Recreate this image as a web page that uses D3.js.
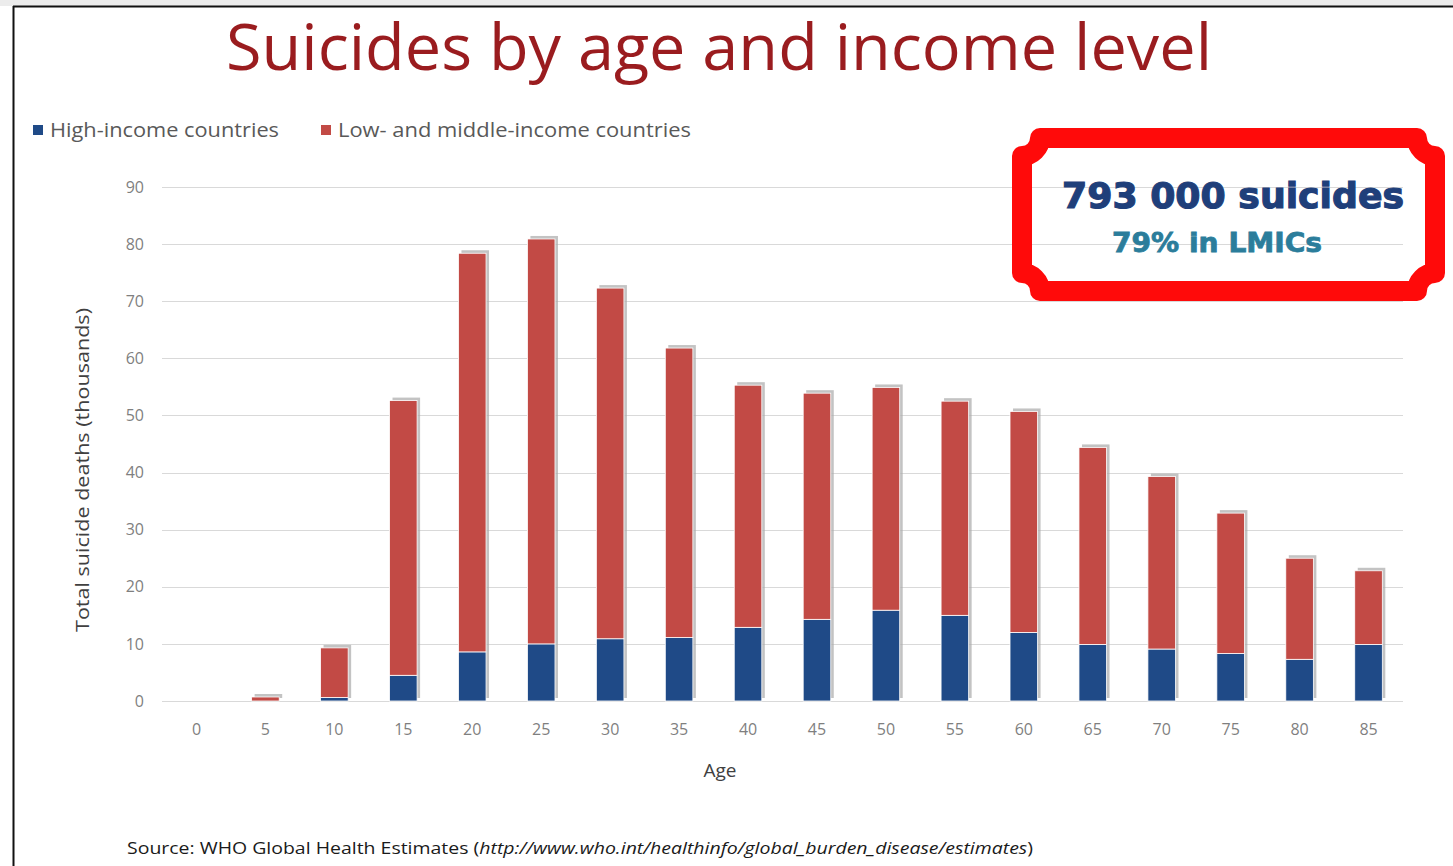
<!DOCTYPE html>
<html>
<head>
<meta charset="utf-8">
<script src="https://cdn.jsdelivr.net/npm/d3@7"></script>
<style>
  body { margin: 0; background: #fff; }
  svg { display: block; font-family: "Open Sans", "Liberation Sans", sans-serif; }
</style>
</head>
<body>
<svg width="1453" height="866"></svg>
<script>
// data (thousands of deaths)
var ages = ["0","5","10","15","20","25","30","35","40","45","50","55","60","65","70","75","80","85"];
var highIncome = [0, 0, 0.6, 4.5, 8.6, 10.0, 10.9, 11.1, 12.9, 14.3, 15.9, 15.0, 12.0, 9.9, 9.1, 8.3, 7.3, 9.9];
var lowMiddle = [0, 0.7, 8.7, 48.1, 69.8, 70.9, 61.4, 50.7, 42.4, 39.6, 39.0, 37.5, 38.7, 34.5, 30.2, 24.6, 17.7, 12.9];
var yTicks = [0, 10, 20, 30, 40, 50, 60, 70, 80, 90];
var seriesNames = ["High-income countries", "Low- and middle-income countries"];
var colors = ["#1f4a87", "#c24a45"];

function main(){
    var svg = d3.select("svg");

    // page frame
    svg.append("rect").attr("x", 0).attr("y", 0).attr("width", 1453).attr("height", 6).attr("fill", "#ececec");
    svg.append("line").attr("x1", 13).attr("x2", 1453).attr("y1", 6.5).attr("y2", 6.5).attr("stroke", "#111").attr("stroke-width", 2);
    svg.append("line").attr("x1", 13.5).attr("x2", 13.5).attr("y1", 6).attr("y2", 866).attr("stroke", "#111").attr("stroke-width", 2);

    // title
    svg.append("text").attr("x", 719).attr("y", 70).attr("text-anchor", "middle")
        .attr("font-size", 64).attr("fill", "#9a1c1f")
        .attr("textLength", 986).attr("lengthAdjust", "spacingAndGlyphs")
        .text("Suicides by age and income level");

    var left = 162, right = 1403, top = 187, bottom = 701;

    var xScale = d3.scaleBand().domain(ages).range([left, right]).paddingInner(0.6).paddingOuter(0.3),
        yScale = d3.scaleLinear().domain([0, 90]).range([bottom, top]);

    // gridlines
    svg.append("g").selectAll("line").data(yTicks).enter().append("line")
        .attr("x1", left).attr("x2", right)
        .attr("y1", function(d){ return Math.round(yScale(d)) + 0.5; })
        .attr("y2", function(d){ return Math.round(yScale(d)) + 0.5; })
        .attr("stroke", "#d9d9d9").attr("stroke-width", 1.2);

    // y axis
    var yAxis = svg.append("g").attr("transform", "translate(" + (left - 10) + ",0)")
        .call(d3.axisLeft(yScale).tickValues(yTicks).tickSize(0).tickPadding(8));
    yAxis.select(".domain").remove();
    yAxis.selectAll("text").attr("font-size", 16).attr("fill", "#7f7f7f").attr("font-family", "Open Sans");

    // x axis
    var xAxis = svg.append("g").attr("transform", "translate(0," + bottom + ")")
        .call(d3.axisBottom(xScale).tickSize(0).tickPadding(23));
    xAxis.select(".domain").remove();
    xAxis.selectAll("text").attr("font-size", 16).attr("fill", "#7f7f7f").attr("font-family", "Open Sans");

    // stack
    var rows = ages.map(function(a, i){ return {age: a, high: highIncome[i], low: lowMiddle[i]}; });
    var stacked = d3.stack().keys(["high", "low"])(rows);

    // shadows behind bars
    svg.append("g").selectAll("rect").data(rows).enter().append("rect")
        .attr("x", function(d){ return xScale(d.age) + 3; })
        .attr("y", function(d){ return yScale(d.high + d.low) - 3; })
        .attr("width", xScale.bandwidth())
        .attr("height", function(d){ return Math.max(0, bottom - yScale(d.high + d.low)); })
        .attr("fill", "#a9a9a9").attr("opacity", function(d){ return d.high + d.low > 0 ? 0.7 : 0; });

    svg.append("g").selectAll("g").data(stacked).enter().append("g")
        .attr("fill", function(d, i){ return colors[i]; })
        .selectAll("rect").data(function(d){ return d; }).enter().append("rect")
        .attr("x", function(d){ return xScale(d.data.age); })
        .attr("y", function(d){ return yScale(d[1]); })
        .attr("width", xScale.bandwidth())
        .attr("height", function(d){ return yScale(d[0]) - yScale(d[1]); })
        .attr("stroke", "#fff").attr("stroke-width", function(d){ return d[1] > d[0] ? 0.8 : 0; });

    // axis titles
    svg.append("text").attr("x", 720).attr("y", 777).attr("text-anchor", "middle")
        .attr("font-size", 19).attr("fill", "#404040").text("Age");
    svg.append("text").attr("transform", "translate(89,470) rotate(-90)").attr("text-anchor", "middle")
        .attr("font-size", 19).attr("fill", "#404040")
        .attr("textLength", 324).attr("lengthAdjust", "spacingAndGlyphs")
        .text("Total suicide deaths (thousands)");

    // legend
    var legendX = [33, 321], legendW = [229, 353];
    seriesNames.forEach(function(name, i){
        svg.append("rect").attr("x", legendX[i]).attr("y", 125).attr("width", 10).attr("height", 10).attr("fill", colors[i]);
        svg.append("text").attr("x", legendX[i] + 17).attr("y", 137).attr("font-size", 20).attr("fill", "#595959")
            .attr("textLength", legendW[i]).attr("lengthAdjust", "spacingAndGlyphs")
            .text(name);
    });

    // source line
    var src = svg.append("text").attr("x", 127).attr("y", 854).attr("font-size", 17).attr("fill", "#1a1a1a")
        .attr("textLength", 906).attr("lengthAdjust", "spacingAndGlyphs");
    src.append("tspan").text("Source: WHO Global Health Estimates (");
    src.append("tspan").attr("font-style", "italic").text("http://www.who.int/healthinfo/global_burden_disease/estimates");
    src.append("tspan").text(")");

    // callout plaque
    var x0 = 1022, x1 = 1435, y0 = 138, y1 = 291, r = 18;
    var p = d3.path();
    p.moveTo(x0 + r, y0);
    p.lineTo(x1 - r, y0);
    p.arc(x1, y0, r, Math.PI, Math.PI / 2, true);
    p.lineTo(x1, y1 - r);
    p.arc(x1, y1, r, -Math.PI / 2, Math.PI, true);
    p.lineTo(x0 + r, y1);
    p.arc(x0, y1, r, 0, -Math.PI / 2, true);
    p.lineTo(x0, y0 + r);
    p.arc(x0, y0, r, Math.PI / 2, 0, true);
    p.closePath();
    svg.append("path").attr("d", p.toString()).attr("fill", "none")
        .attr("stroke", "#ff0a0a").attr("stroke-width", 20).attr("stroke-linejoin", "round");

    svg.append("text").attr("x", 1233).attr("y", 208).attr("text-anchor", "middle")
        .attr("font-family", "DejaVu Sans").attr("font-weight", "bold").attr("font-size", 36)
        .attr("fill", "#1f3f7a").attr("stroke", "#1f3f7a").attr("stroke-width", 1.2)
        .attr("textLength", 342).attr("lengthAdjust", "spacingAndGlyphs")
        .text("793 000 suicides");
    svg.append("text").attr("x", 1217).attr("y", 252).attr("text-anchor", "middle")
        .attr("font-family", "DejaVu Sans").attr("font-weight", "bold").attr("font-size", 27)
        .attr("fill", "#2b7d9b").attr("stroke", "#2b7d9b").attr("stroke-width", 0.8)
        .attr("textLength", 210).attr("lengthAdjust", "spacingAndGlyphs")
        .text("79% in LMICs");
}
main();
</script>
</body>
</html>
